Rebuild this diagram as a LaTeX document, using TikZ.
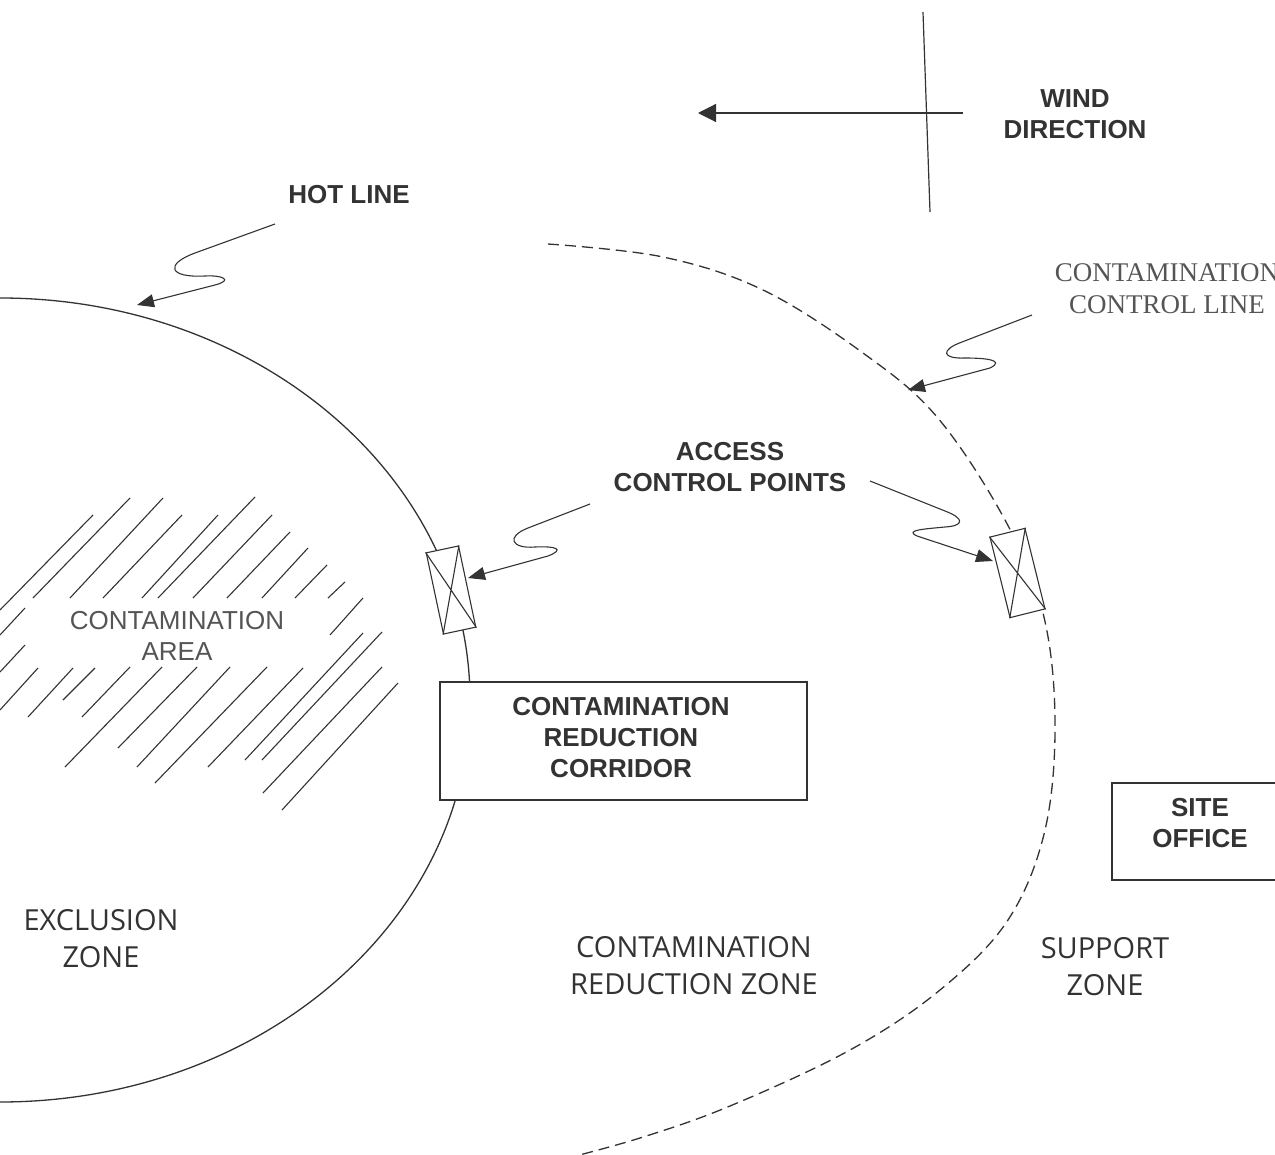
\documentclass[tikz,border=0pt]{standalone}
\usepackage{fontspec}
\setmainfont{Liberation Sans}
\newfontfamily\timesfam{Liberation Serif}
\newfontfamily\zonefam{Open Sans}
\usetikzlibrary{arrows.meta}
\definecolor{ink}{HTML}{333333}
\definecolor{soft}{HTML}{555555}
\begin{document}
\begin{tikzpicture}[x=1pt,y=-1pt,
  hotline/.style={draw=ink,line width=1.3pt},
  ctrlline/.style={draw=ink,line width=1.3pt,dash pattern=on 11pt off 6pt},
  hatchline/.style={draw=ink,line width=1.1pt},
  pointer/.style={draw=ink,line width=1.1pt,-{Triangle[length=17pt,width=13pt]}},
  acpbox/.style={draw=ink,line width=1.1pt,fill=white,rectangle,minimum width=33pt,minimum height=83pt,inner sep=0pt},
  boldlabel/.style={font=\fontsize{26}{31}\selectfont\bfseries,text=ink,align=center,inner sep=0pt},
  plainlabel/.style={font=\fontsize{26}{31}\selectfont,text=soft,align=center,inner sep=0pt},
  seriflabel/.style={font=\timesfam\fontsize{27}{32}\selectfont,text=soft,align=center,inner sep=0pt},
  zonelabel/.style={font=\zonefam\fontsize{29}{37}\selectfont,text=ink,align=center,inner sep=0pt},
  boxnode/.style={draw=ink,line width=1.2pt,fill=white,rectangle,inner sep=0pt}]
\useasboundingbox (0,0) rectangle (1275,1155);
\clip (0,0) rectangle (1275,1155);
\fill[white] (0,0) rectangle (1275,1155);

% hatched contamination area
\foreach \a/\b/\c/\d in {
  0/610/93/515, 33/598/130/498, 70/598/163/498, 103/598/182/515,
  142/598/218/515, 158/598/255/497, 193/598/272/515, 227/598/290/532,
  262/598/308/548, 295/598/327/565, 328/598/345/582,
  0/635/25/608, 0/672/25/645, 330/635/363/598,
  0/710/38/668, 28/717/73/668, 63/700/95/668, 82/717/130/667,
  65/767/162/667, 118/748/197/667, 137/767/230/667, 155/783/267/667,
  208/767/303/668, 245/760/363/633, 262/760/382/632, 263/793/382/667,
  282/810/398/683}
  \draw[hatchline] (\a,\b) -- (\c,\d);

% hot line (exclusion zone boundary)
\draw[hotline] (0,700) ellipse[x radius=470pt, y radius=402pt];

% contamination control line
\draw[ctrlline] plot[smooth, tension=0.6] coordinates {
  (548,244) (663,257) (763,290) (863,353) (937,417) (1005,520)
  (1043,613) (1055,720) (1045,830) (1008,920) (940,990)
  (850,1050) (730,1106) (640,1138) (560,1160)};

% access control points
\node[acpbox, rotate=12] (acpL) at (451,590) {};
\draw[line width=1.1pt,draw=ink] (acpL.north west) -- (acpL.south east)
  (acpL.north east) -- (acpL.south west);
\node[acpbox, rotate=14, minimum width=36pt, minimum height=83pt] (acpR) at (1017.5,573) {};
\draw[line width=1.1pt,draw=ink] (acpR.north west) -- (acpR.south east)
  (acpR.north east) -- (acpR.south west);

% boxes
\node[boxnode, minimum width=367pt, minimum height=118pt] (crc) at (623.5,741) {};
\node[boldlabel] (crcText) at (621,738) {CONTAMINATION\\REDUCTION\\CORRIDOR};
\node[boxnode, minimum width=178pt, minimum height=97pt] (site) at (1201,831.5) {};
\node[boldlabel] (siteText) at (1200,823) {SITE\\OFFICE};

% wind direction
\coordinate (wTop) at (923,12);
\coordinate (wBot) at (930,212);
\coordinate (wR) at (963,113);
\coordinate (wL) at (698,113);
\draw[line width=1.2pt,draw=ink] (wTop) -- (wBot);
\draw[line width=1.2pt,draw=ink,-{Triangle[length=18pt,width=18pt]}] (wR) -- (wL);

% labels
\node[boldlabel] (wind) at (1075,114) {WIND\\DIRECTION};
\node[boldlabel] (hot) at (349,195) {HOT LINE};
\node[seriflabel] (ccl) at (1167,289) {CONTAMINATION\\CONTROL LINE};
\node[boldlabel] (acp) at (730,467) {ACCESS\\CONTROL POINTS};
\node[plainlabel] (carea) at (177,636) {CONTAMINATION\\AREA};
\node[zonelabel] (excl) at (101,939) {EXCLUSION\\ZONE};
\node[zonelabel] (crz) at (694,966) {CONTAMINATION\\REDUCTION ZONE};
\node[zonelabel] (supp) at (1105,967) {SUPPORT\\ZONE};

% pointer squiggles
\coordinate (hlA) at (275,224);
\coordinate (hlB) at (137,305);
\draw[pointer] (hlA) -- (195,253) .. controls (165,264) and (168,278) .. (205,276)
  .. controls (222,275) and (234,280) .. (215,285) -- (hlB);

\coordinate (cclA) at (1032,315);
\coordinate (cclB) at (908,390);
\draw[pointer] (cclA) -- (962,342) .. controls (940,350) and (942,359) .. (965,358)
  .. controls (985,358) and (1006,360) .. (990,368) -- (cclB);

\coordinate (acpLA) at (590,504);
\coordinate (acpLB) at (468,578);
\draw[pointer] (acpLA) -- (528,528) .. controls (505,537) and (512,549) .. (535,547)
  .. controls (555,546) and (566,549) .. (548,556) -- (acpLB);

\coordinate (acpRA) at (870,481);
\coordinate (acpRB) at (993,561);
\draw[pointer] (acpRA) -- (945,511) .. controls (966,519) and (963,526) .. (945,527)
  .. controls (925,529) and (904,530) .. (917,536) -- (acpRB);
\end{tikzpicture}
\end{document}
